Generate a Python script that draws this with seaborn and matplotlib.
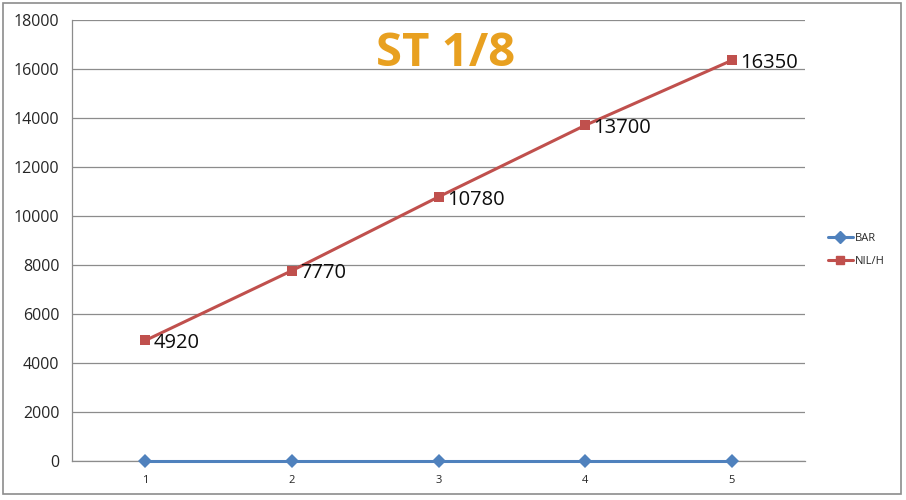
import seaborn as sns
import pandas as pd
import matplotlib.pyplot as plt
from matplotlib.patches import Rectangle

# chart data
points = [1, 2, 3, 4, 5]
bar_vals = [0, 0, 0, 0, 0]
nil_vals = [4920, 7770, 10780, 13700, 16350]
y_ticks = [0, 2000, 4000, 6000, 8000, 10000, 12000, 14000, 16000, 18000]

df = pd.DataFrame({
    "x": points * 2,
    "y": bar_vals + nil_vals,
    "serie": ["BAR"] * 5 + ["NIL/H"] * 5,
})

sns.set_style("white")
plt.rcParams["font.family"] = ["Open Sans", "DejaVu Sans"]

fig = plt.figure(figsize=(9.06, 5.0), dpi=100)
ax = fig.add_axes([0.0795, 0.078, 0.809, 0.882])

blue = "#4F81BD"
red = "#C0504D"
sns.lineplot(data=df, x="x", y="y", hue="serie", style="serie",
             palette={"BAR": blue, "NIL/H": red},
             markers={"BAR": "D", "NIL/H": "s"},
             dashes=False, linewidth=2.2, markersize=7,
             markeredgewidth=0, ax=ax, legend=False)
for ln in ax.lines:
    ln.set_clip_on(False)
    ln.set_zorder(3)

# data labels on the red line
for xv, yv in zip(points, nil_vals):
    ax.annotate(str(yv), (xv, yv), xytext=(6, -2), textcoords="offset points",
                ha="left", va="center", fontsize=14.5, color="#0d0d0d")

ax.set_xlim(0.5, 5.5)
ax.set_ylim(0, 18000)
ax.set_yticks(y_ticks)
ax.set_yticklabels([str(v) for v in y_ticks], fontsize=11.5)
ax.set_xticks(points)
ax.set_xticklabels([str(p) for p in points], fontsize=8)
ax.set_xticks([1.5, 2.5, 3.5, 4.5, 5.5], minor=True)
ax.tick_params(axis="x", which="major", length=0, pad=10)
ax.tick_params(axis="x", which="minor", length=4, direction="in", color="#888888")
ax.tick_params(axis="y", length=5, direction="out", color="#888888", pad=4)
ax.set_xlabel("")
ax.set_ylabel("")

ax.grid(axis="y", color="#8c8c8c", linewidth=0.9)
ax.set_axisbelow(True)
for s in ["top", "right"]:
    ax.spines[s].set_visible(False)
ax.spines["left"].set_color("#8c8c8c")
ax.spines["bottom"].set_color("#8c8c8c")
ax.spines["left"].set_linewidth(0.9)
ax.spines["bottom"].set_linewidth(0.9)

ax.text(0.51, 0.924, "ST 1/8", transform=ax.transAxes, ha="center", va="center",
        fontsize=34, fontweight="bold", color="#E8A020")

# legend on the right
handles = [
    plt.Line2D([], [], color=blue, marker="D", markersize=6, linewidth=2.2),
    plt.Line2D([], [], color=red, marker="s", markersize=6, linewidth=2.2),
]
fig.legend(handles, ["BAR", "NIL/H"], loc="center left", bbox_to_anchor=(0.903, 0.5),
           frameon=False, fontsize=8, handlelength=2.2, handletextpad=0.2,
           labelspacing=1.1)

# outer chart border
fig.patches.append(Rectangle((0.003, 0.012), 0.991, 0.983, transform=fig.transFigure,
                             fill=False, edgecolor="#8c8c8c", linewidth=1.2))

fig.savefig("out.png", dpi=100)
